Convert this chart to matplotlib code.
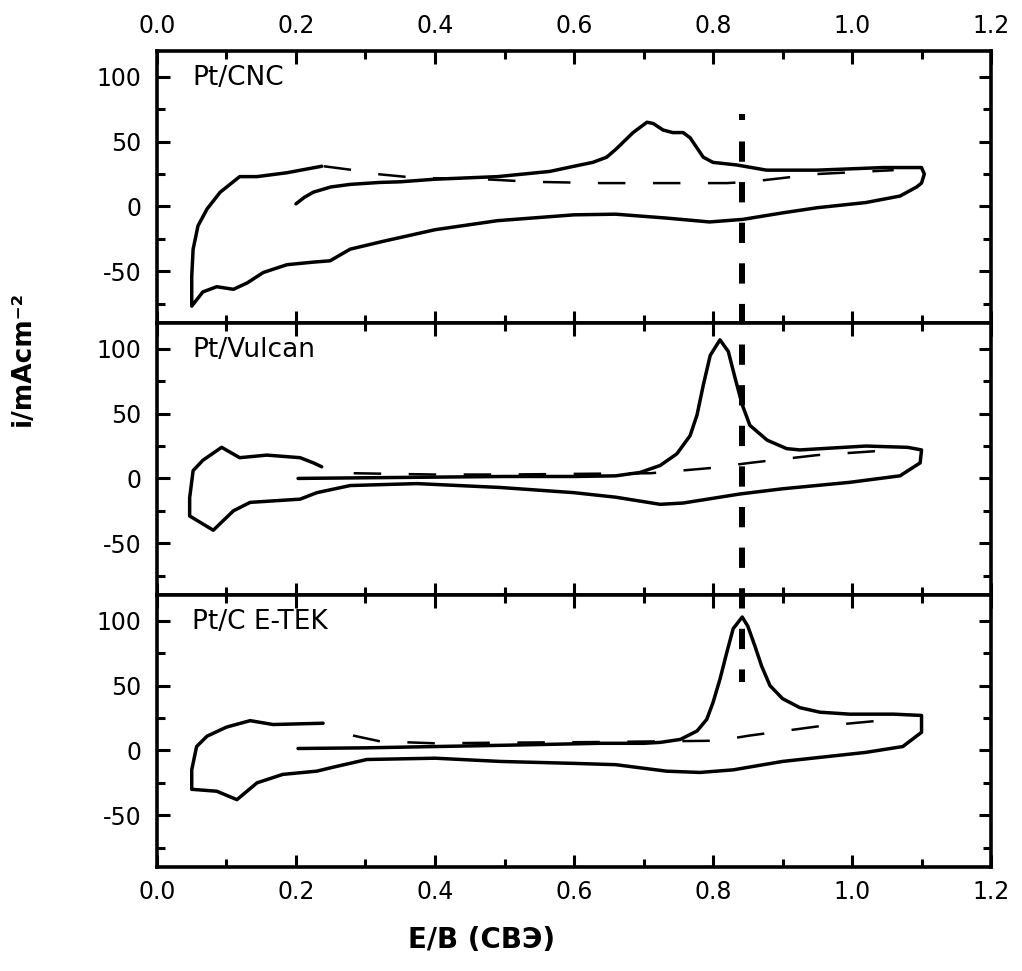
import matplotlib
matplotlib.use("Agg")
import matplotlib.pyplot as plt
from matplotlib.lines import Line2D
from matplotlib.ticker import MultipleLocator, FormatStrFormatter

plt.rcParams["font.family"] = ["DejaVu Sans"]
plt.rcParams["axes.unicode_minus"] = False

# Pt/CNC, solid loop and dashed second sweep
cnc_x = [0.200, 0.212, 0.225, 0.250, 0.278, 0.320, 0.350, 0.400, 0.490, 0.565,
         0.600, 0.627, 0.647, 0.660, 0.685, 0.705, 0.714, 0.728, 0.742, 0.757,
         0.767, 0.786, 0.800, 0.834, 0.877, 0.950, 1.045, 1.100, 1.104, 1.100,
         1.093, 1.069, 1.020, 0.950, 0.900, 0.843, 0.795, 0.733, 0.660, 0.600,
         0.490, 0.400, 0.325, 0.278, 0.249, 0.225, 0.187, 0.153, 0.130, 0.110,
         0.086, 0.066, 0.050, 0.050, 0.052, 0.059, 0.072, 0.091, 0.119, 0.144,
         0.187, 0.237]
cnc_y = [2, 7, 11, 15, 17, 18.5, 19, 21, 23, 27,
         31, 34, 38, 44, 57, 65, 64, 59, 57, 57,
         53, 38, 34, 32, 28, 28, 30, 30, 25, 18,
         15, 8, 3, -1, -5, -10, -12, -9, -6, -6.5,
         -11, -18, -27, -33, -42, -43, -45, -51, -59, -64,
         -62, -66, -77, -54, -33, -15, -2, 11, 23, 23,
         26, 31]
cnc_dash_x = [0.240, 0.283, 0.316, 0.374, 0.470, 0.540, 0.640, 0.710, 0.820,
              0.853, 0.950, 1.060]
cnc_dash_y = [31, 28, 25, 22, 21, 19, 18, 18, 18, 19, 25, 28]

# Pt/Vulcan
vul_x = [0.203, 0.300, 0.400, 0.500, 0.600, 0.660, 0.695, 0.724, 0.748, 0.767,
         0.777, 0.786, 0.796, 0.810, 0.822, 0.832, 0.842, 0.853, 0.878, 0.906,
         0.925, 1.020, 1.080, 1.100, 1.098, 1.069, 0.997, 0.900, 0.839, 0.757,
         0.724, 0.660, 0.600, 0.494, 0.374, 0.278, 0.230, 0.206, 0.134, 0.110,
         0.081, 0.047, 0.047, 0.052, 0.066, 0.093, 0.119, 0.158, 0.206, 0.225,
         0.237]
vul_y = [0, 0.5, 1, 1.5, 1.5, 2, 4.6, 10, 19, 33,
         49, 72, 95, 107, 98, 77, 57, 41, 29.5, 23,
         22, 25, 24, 22, 12, 2, -3, -8, -12, -19,
         -20, -14.5, -11, -7, -4, -5.5, -11, -16, -18.5, -25,
         -40, -29, -15, 6, 14, 24, 16, 18, 16, 12,
         9]
vul_dash_x = [0.283, 0.400, 0.500, 0.600, 0.710, 0.796, 0.853, 0.950, 1.060]
vul_dash_y = [4, 3, 3, 3.5, 4, 8, 12, 18, 22]

# Pt/C E-TEK
etek_x = [0.203, 0.300, 0.400, 0.500, 0.637, 0.700, 0.724, 0.753, 0.777, 0.791,
          0.800, 0.810, 0.820, 0.829, 0.842, 0.850, 0.860, 0.870, 0.882, 0.900,
          0.925, 0.954, 0.997, 1.060, 1.100, 1.100, 1.073, 1.020, 0.900, 0.829,
          0.781, 0.733, 0.660, 0.600, 0.494, 0.400, 0.302, 0.253, 0.230, 0.181,
          0.144, 0.115, 0.086, 0.050, 0.050, 0.057, 0.072, 0.100, 0.134, 0.167,
          0.239]
etek_y = [1.5, 2, 3, 4, 5.5, 5.5, 6.2, 8.5, 15, 24,
          37, 55, 76, 94, 103, 96, 81, 65, 50, 40,
          33, 29.5, 28, 28, 27, 14, 3, -1.5, -8.5, -15,
          -17, -16, -11, -10, -8.5, -6, -7, -13, -16, -18.5,
          -25, -38, -31.5, -30, -15, 3, 11, 18, 23, 20,
          21]
etek_dash_x = [0.282, 0.321, 0.400, 0.500, 0.640, 0.806, 0.853, 0.950, 1.060]
etek_dash_y = [11.5, 7, 5.5, 6, 6.5, 7.5, 11.5, 18.5, 24]

panels = [
    ("Pt/CNC", cnc_x, cnc_y, cnc_dash_x, cnc_dash_y),
    ("Pt/Vulcan", vul_x, vul_y, vul_dash_x, vul_dash_y),
    ("Pt/C E-TEK", etek_x, etek_y, etek_dash_x, etek_dash_y),
]

marker_x = 0.842
marker_top = 71     # value in the Pt/CNC panel
marker_bottom = 53  # value in the Pt/C E-TEK panel

fig = plt.figure(figsize=(10.22, 9.71), dpi=100)
gs = fig.add_gridspec(3, 1, left=0.1536, right=0.9697, top=0.9475,
                      bottom=0.1071, hspace=0)
axes = [fig.add_subplot(gs[i, 0]) for i in range(3)]

for i, (ax, (name, sx, sy, dx, dy)) in enumerate(zip(axes, panels)):
    ax.plot(sx, sy, color="black", lw=2.5, solid_joinstyle="round",
            solid_capstyle="round")
    ax.plot(dx, dy, color="black", lw=1.8, dashes=(11, 11))
    ax.set_xlim(0, 1.2)
    ax.set_ylim(-90, 120)
    ax.xaxis.set_major_locator(MultipleLocator(0.2))
    ax.xaxis.set_minor_locator(MultipleLocator(0.1))
    ax.yaxis.set_major_locator(MultipleLocator(50))
    ax.yaxis.set_minor_locator(MultipleLocator(25))
    ax.xaxis.set_major_formatter(FormatStrFormatter("%.1f"))
    ax.tick_params(which="both", direction="in", top=True, right=True,
                   width=2.2, labelsize=17, colors="black")
    ax.tick_params(which="major", length=9)
    ax.tick_params(which="minor", length=6)
    ax.tick_params(axis="x", pad=9, labelbottom=(i == 2), labeltop=(i == 0))
    ax.tick_params(axis="y", pad=11)
    for sp in ax.spines.values():
        sp.set_linewidth(2.6)
    ax.text(0.042, 0.90, name, transform=ax.transAxes, fontsize=19,
            va="center", ha="left")

# vertical dashed marker running through all three panels
to_fig = fig.transFigure.inverted()
p_top = to_fig.transform(axes[0].transData.transform((marker_x, marker_top)))
p_bot = to_fig.transform(axes[2].transData.transform((marker_x, marker_bottom)))
marker = Line2D([p_top[0], p_bot[0]], [p_top[1], p_bot[1]],
                transform=fig.transFigure, color="black", lw=4.3,
                dashes=(1.0, 3.6) + (3.4, 3.4) * 30,
                dash_capstyle="butt", zorder=5)
fig.add_artist(marker)

fig.text(0.022, 0.631, "i/mAcm⁻²", rotation=90, fontsize=19,
         fontweight="bold", ha="center", va="center")
fig.text(0.471, 0.032, "Е/В (СВЭ)", fontsize=20, fontweight="bold",
         ha="center", va="center")

fig.savefig("out.png", dpi=100)
